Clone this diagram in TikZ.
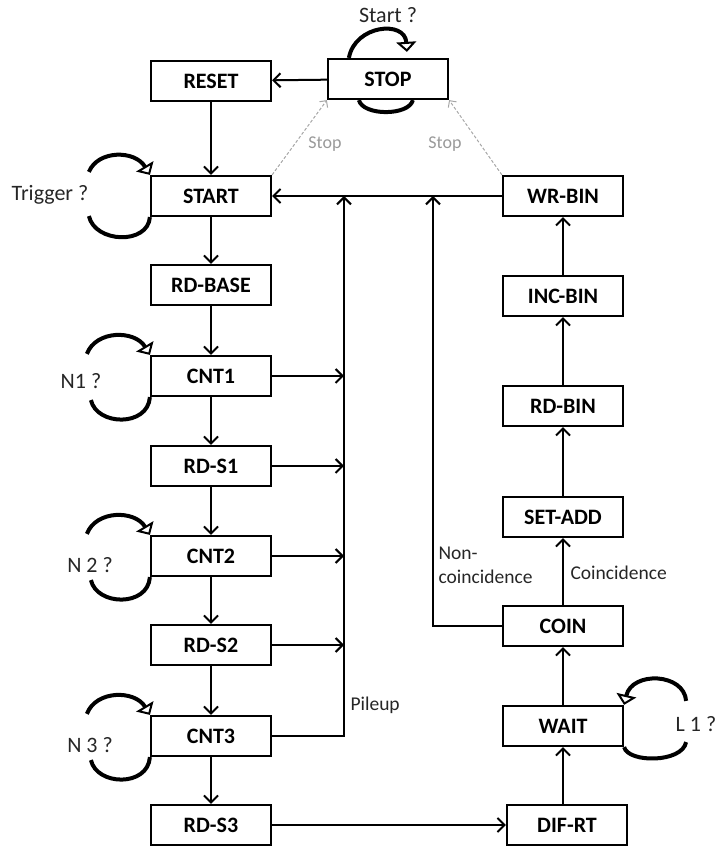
\documentclass[tikz,border=0pt]{standalone}
\usepackage{fontspec}
\setmainfont{Carlito}
\usepackage{tikz}
\usetikzlibrary{arrows.meta, calc, positioning}

\tikzset{
    state/.style={draw, fill=white, line width=2.2pt, minimum width=120pt, minimum height=40pt,
        inner sep=0pt, font=\fontsize{22}{24}\selectfont\bfseries},
    flow/.style={line width=2pt, -{Straight Barb[length=7pt, width=14pt, line width=2pt]}},
    selfloop/.style={line width=4pt},
    looptip/.style={-{Triangle[open, length=10pt, width=20pt, line width=2pt]}},
    cond/.style={font=\fontsize{22}{24}\selectfont, text=black!85},
    edgelbl/.style={font=\fontsize{19.5}{24}\selectfont, text=black!85},
    stopline/.style={line width=1pt, black!35, dash pattern=on 3pt off 2pt,
        -{Straight Barb[length=5pt, width=10pt, line width=1pt]}},
    stoplbl/.style={font=\fontsize{18}{20}\selectfont, text=black!40}
}

\begin{document}
\begin{tikzpicture}[x=1pt, y=1pt]
    \useasboundingbox (0,0) rectangle (718,848);

    % 1. Cột trái: các trạng thái đếm
    \node[state] (RESET)  at (211,767) {RESET};
    \node[state] (START)  at (211,652) {START};
    \node[state] (RDBASE) at (211,563) {RD-BASE};
    \node[state] (CNT1)   at (211,472) {CNT1};
    \node[state] (RDS1)   at (211,382) {RD-S1};
    \node[state] (CNT2)   at (211,292) {CNT2};
    \node[state] (RDS2)   at (211,203) {RD-S2};
    \node[state] (CNT3)   at (211,112) {CNT3};
    \node[state] (RDS3)   at (211,23)  {RD-S3};

    % 2. Trạng thái STOP ở trên cùng
    \node[state] (STOP) at (388,769) {STOP};

    % 3. Cột phải: xử lý trùng phùng và ghi bin
    \node[state] (WRBIN)  at (563,652) {WR-BIN};
    \node[state] (INCBIN) at (563,552) {INC-BIN};
    \node[state] (RDBIN)  at (563,442) {RD-BIN};
    \node[state] (SETADD) at (563,331) {SET-ADD};
    \node[state] (COIN)   at (563,222) {COIN};
    \node[state] (WAIT)   at (563,122) {WAIT};
    \node[state] (DIFRT)  at (567,23)  {DIF-RT};

    % 4. Mũi tên chính
    \draw[flow] (STOP) -- (RESET);
    \draw[flow] (RESET) -- (START);
    \draw[flow] (START) -- (RDBASE);
    \draw[flow] (RDBASE) -- (CNT1);
    \draw[flow] (CNT1) -- (RDS1);
    \draw[flow] (RDS1) -- (CNT2);
    \draw[flow] (CNT2) -- (RDS2);
    \draw[flow] (RDS2) -- (CNT3);
    \draw[flow] (CNT3) -- (RDS3);
    \draw[flow] (RDS3) -- (DIFRT);
    \draw[flow] (WAIT |- DIFRT.north) -- (WAIT);
    \draw[flow] (WAIT) -- (COIN);
    \draw[flow] (COIN) -- (SETADD);
    \draw[flow] (SETADD) -- (RDBIN);
    \draw[flow] (RDBIN) -- (INCBIN);
    \draw[flow] (INCBIN) -- (WRBIN);
    \draw[flow] (WRBIN) -- (START);

    % 5. Đường Pileup và Non-coincidence quay về START
    \coordinate (pileup) at (344,652);
    \coordinate (noncoin) at (433,652);
    \draw[flow] (CNT3.east) -| (pileup);
    \draw[flow] (CNT1.east) -- (CNT1.east -| pileup);
    \draw[flow] (RDS1.east) -- (RDS1.east -| pileup);
    \draw[flow] (CNT2.east) -- (CNT2.east -| pileup);
    \draw[flow] (RDS2.east) -- (RDS2.east -| pileup);
    \draw[flow] (COIN.west) -| (noncoin);

    % 6. Mũi tên nét đứt màu xám về STOP
    \draw[stopline] (START.north east) -- (STOP.south west);
    \draw[stopline] (WRBIN.north west) -- (STOP.south east);
    \node[stoplbl] (stopA) at (325,704) {Stop};
    \node[stoplbl] (stopB) at (445,704) {Stop};

    % 7. Các vòng chờ (tự lặp)
    % STOP: cung trên có mũi tên, cung dưới không
    \draw[selfloop, looptip, shift={(STOP.north west)}]
        (22,0) .. controls (28,33) and (78,38) .. (80,6);
    \draw[selfloop, shift={(STOP.south west)}]
        (32,0) .. controls (36,-16) and (82,-16) .. (86,0);

    % START, CNT1, CNT2, CNT3: vòng bên trái
    \draw[selfloop, looptip, shift={(START.north west)}]
        (-61,3) .. controls (-52,25) and (-15,25) .. (0,0);
    \draw[selfloop, shift={(START.south west)}]
        (-61,1) .. controls (-55,-26) and (-2,-28) .. (0,0);

    \draw[selfloop, looptip, shift={(CNT1.north west)}]
        (-63,1) .. controls (-54,25) and (-15,25) .. (0,0);
    \draw[selfloop, shift={(CNT1.south west)}]
        (-59,-3) .. controls (-53,-29) and (-2,-30) .. (0,0);

    \draw[selfloop, looptip, shift={(CNT2.north west)}]
        (-63,1) .. controls (-54,25) and (-15,25) .. (0,0);
    \draw[selfloop, shift={(CNT2.south west)}]
        (-59,-3) .. controls (-53,-29) and (-2,-30) .. (0,0);

    \draw[selfloop, looptip, shift={(CNT3.north west)}]
        (-63,1) .. controls (-54,25) and (-15,25) .. (0,0);
    \draw[selfloop, shift={(CNT3.south west)}]
        (-59,-3) .. controls (-53,-29) and (-2,-30) .. (0,0);

    % WAIT: vòng bên phải
    \draw[selfloop, looptip, shift={(WAIT.north east)}]
        (62,4) .. controls (60,32) and (8,34) .. (0,0);
    \draw[selfloop, shift={(WAIT.south east)}]
        (62,5) .. controls (58,-16) and (4,-16) .. (0,0);

    % 8. Nhãn điều kiện
    \node[cond] (startq) at (388,833) {Start ?};
    \node[cond] (trigq)  at (50,653)  {Trigger ?};
    \node[cond] (n1q)    at (81,467)  {N1 ?};
    \node[cond] (n2q)    at (90,283)  {N 2 ?};
    \node[cond] (n3q)    at (90,103)  {N 3 ?};
    \node[cond] (l1q)    at (696,124) {L 1 ?};

    \node[edgelbl, anchor=west] (pilelbl) at (347,143) {Pileup};
    \node[edgelbl, anchor=west, align=left] (noncoinlbl) at (435,283) {Non-\\coincidence};
    \node[edgelbl, anchor=west] (coinlbl) at (567,275) {Coincidence};

\end{tikzpicture}
\end{document}
